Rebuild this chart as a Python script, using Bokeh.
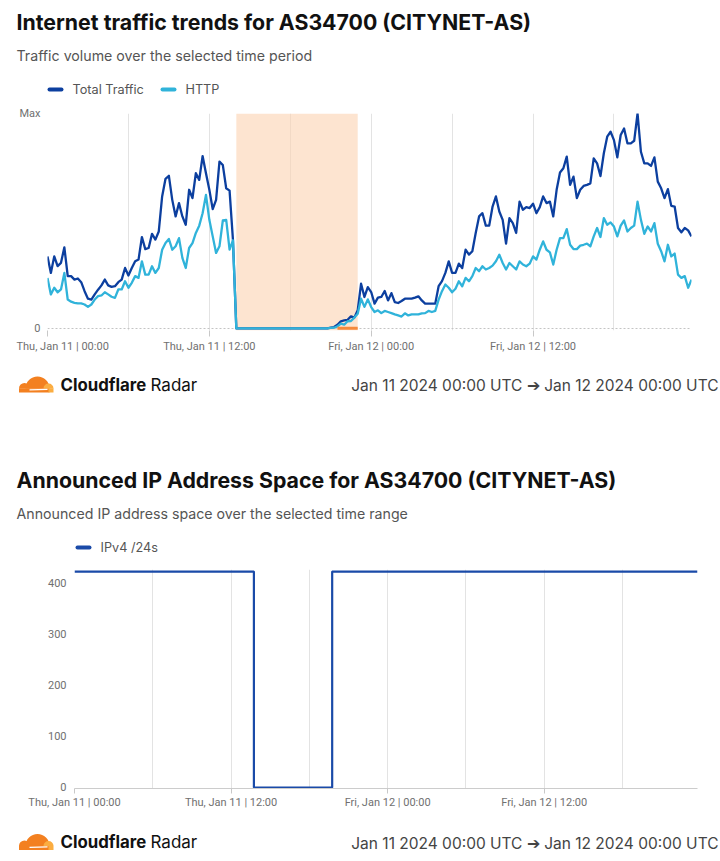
import pandas as pd
from bokeh.plotting import figure
from bokeh.models import Range1d, FixedTicker, DatetimeTickFormatter, BoxAnnotation
from bokeh.layouts import column
from bokeh.core.properties import value
from bokeh.embed import file_html
from bokeh.resources import INLINE

# ---------------- texts ----------------
TITLE_TRAFFIC = "Internet traffic trends for AS34700 (CITYNET-AS)"
SUBTITLE_TRAFFIC = "Traffic volume over the selected time period"
TITLE_PREFIX = "Announced IP Address Space for AS34700 (CITYNET-AS)"
SUBTITLE_PREFIX = "Announced IP address space over the selected time range"
BRAND_BOLD = "Cloudflare"
BRAND_LIGHT = "Radar"
DATE_RANGE_TEXT = "Jan 11 2024 00:00 UTC \u2794 Jan 12 2024 00:00 UTC"
SERIES_NAMES = ["Total Traffic", "HTTP"]
PREFIX_NAME = "IPv4 /24s"

# ---------------- data ----------------
series_start = "2024-01-11 00:00"
series_step = "15min"

# traffic, percent of max, every 15 min
total_traffic = [
    33.5, 25.8, 33.5, 29, 30.5, 37.7, 24.3, 24.3, 22.7, 23.2,
    21.5, 17.3, 13.8, 13.4, 15.8, 18, 20, 22.7, 20, 19.3,
    19.6, 21.5, 22.7, 28.1, 24.6, 28.1, 31.2, 32, 42.5, 36.9,
    37.4, 44, 41.3, 45.1, 61.4, 69.6, 71, 59.8, 52.1, 58.3,
    52.1, 48.2, 64.5, 60.6, 72.2, 69.1, 80.2, 72.2, 64.5, 55.5,
    59.8, 77.6, 76, 65.2, 64.1, 41.3,
    0, 0, 0, 0, 0, 0, 0, 0, 0, 0, 0, 0, 0, 0, 0, 0, 0, 0, 0, 0,
    0, 0, 0, 0, 0, 0, 0, 0,
    0.3, 0.6, 1.7, 3.3, 3.7, 4, 5.6, 5, 8.4, 20.8,
    14.6, 19.2, 16.9, 11.5, 14.3, 14.6, 17.4, 13, 16.4, 12.2,
    11.8, 12.7, 13.8, 13.8, 13.8, 14.3, 14.9, 13, 11.5, 11.5,
    11.5, 11.5,
    19.6, 22, 25.8, 31.2, 25.8, 25.8, 30.1, 28.1, 36.6, 34.3,
    35.9, 44.4, 52.1, 53.6, 47.8, 47.8, 56.7, 61.4, 54.4, 50.5,
    39.4, 51.3, 49, 44.4, 59, 55.2, 56.4, 56, 58, 53.6,
    56.4, 61.4, 58.3, 59, 52.1, 64.5, 72.5, 74.5, 79.9, 66.8,
    70.6, 60.6, 64.5, 66.3, 66.8, 67.5, 79.1, 76.8, 70.9, 81.5,
    89.2, 91.5, 87.6, 79.6, 90, 93, 86.1, 86.1, 87.3, 100,
    82.2, 76.8, 76.8, 75.6, 79.6, 68.3, 65.2, 60.6, 64.8, 57,
    56.7, 46.7, 44.7, 46.7, 45.6, 42.8,
]
http_traffic = [
    23.5, 15.8, 18.9, 16.8, 18.1, 25.8, 13.4, 12.4, 11.9, 11.6,
    11.6, 11.1, 10, 11.1, 13.4, 15, 15.3, 16.8, 15.8, 14.7,
    14.2, 18.1, 18.1, 21.9, 18.9, 21.2, 24.3, 23.5, 31.2, 25,
    25, 28.9, 25.8, 28.1, 36.6, 39.7, 41.6, 36.6, 38.2, 42,
    32.8, 28.1, 37.4, 39.7, 44.4, 47.8, 53.6, 62.1, 50.5, 42.8,
    35.1, 38.2, 50.2, 50.5, 36.6, 41,
    0, 0, 0, 0, 0, 0, 0, 0, 0, 0, 0, 0, 0, 0, 0, 0, 0, 0, 0, 0,
    0, 0, 0, 0, 0, 0, 0, 0,
    0.2, 0.3, 0.9, 2.2, 1.7, 3.3, 3.4, 5, 6.8, 13.8,
    10, 13.5, 9.9, 7.6, 8.4, 7.1, 8.1, 7.6, 7.1, 6.5,
    6, 5.5, 7, 6, 6.5, 6.5, 6.5, 7, 7.1, 8.1,
    7.6, 8.1,
    13.4, 17.3, 20.4, 18.9, 16.8, 18.4, 21.9, 19.6, 23.5, 21.9,
    24.3, 28.1, 26.6, 28.9, 27.4, 28.1, 29.2, 31.2, 34.3, 30.4,
    27.4, 30.4, 28.9, 27.4, 31.2, 29.7, 28.9, 30.1, 33.5, 32,
    36.6, 40.5, 36.6, 35.4, 29.7, 36.6, 42, 42, 46.2, 38.9,
    36.9, 36.9, 38.5, 38.9, 39.4, 38.2, 42.8, 46.7, 42.5, 51.3,
    48.2, 49.3, 47.4, 42.8, 47.8, 50.2, 45.1, 46.7, 47.8, 59,
    50.5, 44, 47.4, 45.1, 49, 39.4, 35.9, 31.2, 38.9, 33.5,
    34.8, 25, 23.5, 24.3, 18.9, 22.7,
]
traffic_ticks = [0, 100]
traffic_tick_labels = ["0", "Max"]

outage_start = "2024-01-11 14:00"
outage_end = "2024-01-11 23:00"
anomaly_start = "2024-01-11 21:30"
anomaly_end = "2024-01-11 23:00"

ipv4_times = ["2024-01-11 00:00", "2024-01-11 13:45", "2024-01-11 19:45", "2024-01-12 23:45"]
ipv4_values = [423, 0, 423, 423]
ipv4_ticks = [0, 100, 200, 300, 400]

# ---------------- styles ----------------
FONT = "Inter"
AXIS_FONT = "Roboto"
DARK = "#0c3f9f"
LIGHT = "#30b3da"
PREFIX_BLUE = "#1a4aa8"
GRID = "#e3e3e3"
LABEL = "#707070"
W = 720

times = pd.date_range(series_start, periods=len(total_traffic), freq=series_step)
t0, t1 = times[0], times[-1]
FMT = "%a, %b %d | %H:%M"


def ms(t):
    return pd.Timestamp(t).value / 1e6


tick12 = [ms(t) for t in pd.date_range(t0, t1, freq="12h")]
tick6 = [ms(t) for t in pd.date_range(t0, t1, freq="6h")]


def dt_formatter():
    return DatetimeTickFormatter(microseconds=FMT, milliseconds=FMT, seconds=FMT, minsec=FMT,
                                 minutes=FMT, hourmin=FMT, hours=FMT, days=FMT, months=FMT,
                                 years=FMT)


def text_fig(height, width=W):
    p = figure(width=width, height=height, x_range=Range1d(0, width), y_range=Range1d(0, height),
               x_axis_location=None, y_axis_location=None, toolbar_location=None,
               output_backend="svg", min_border=0, outline_line_color=None, frame_align=False)
    p.grid.grid_line_color = None
    return p


def txt(p, x, y, s, size, color="#111111", bold=False, align="left", font=FONT):
    p.text(x=[x], y=[y], text=[s], text_font=value(font),
           text_font_style="bold" if bold else "normal", text_font_size=size,
           text_color=color, text_baseline="middle", text_align=align)


def header(height, title, subtitle, title_y, sub_y, legend_y, legend_x, names, colors):
    p = text_fig(height)
    txt(p, 16, title_y, title, "21.3px", bold=True)
    txt(p, 16, sub_y, subtitle, "14.2px", color="#555555")
    x = legend_x
    for name, col in zip(names, colors):
        p.segment(x0=[x + 2], y0=[legend_y], x1=[x + 14], y1=[legend_y], line_color=col,
                  line_width=4, line_cap="round")
        txt(p, x + 25, legend_y, name, "12.7px", color="#555555")
        x += 113
    return p


def footer(height, mid):
    p = text_fig(height)
    x0 = 16
    b = mid - 8
    dark_o, light_o = "#f38020", "#fbad41"
    p.wedge(x=[x0 + 21], y=[b + 4], radius=12, start_angle=0, end_angle=3.1416,
            fill_color=dark_o, line_color=None)
    p.wedge(x=[x0 + 8], y=[b + 4], radius=5.5, start_angle=0, end_angle=3.1416,
            fill_color=dark_o, line_color=None)
    p.quad(left=[x0 + 2.5], right=[x0 + 33], bottom=[b], top=[b + 4.2],
           fill_color=dark_o, line_color=None)
    p.wedge(x=[x0 + 32], y=[b + 4], radius=5, start_angle=0, end_angle=3.1416,
            fill_color=light_o, line_color=None)
    p.quad(left=[x0 + 32], right=[x0 + 37], bottom=[b], top=[b + 4.2],
           fill_color=light_o, line_color=None)
    p.segment(x0=[x0 + 13], y0=[b + 2.6], x1=[x0 + 31], y1=[b + 3.2], line_color="white",
              line_width=1.2)
    txt(p, 60, mid, BRAND_BOLD, "16.8px", bold=True)
    txt(p, 150, mid, BRAND_LIGHT, "17px")
    txt(p, 718, mid - 1, DATE_RANGE_TEXT, "15.5px", color="#444444", align="right")
    return p


def style_axes(p, xtick_out, xstandoff, ystandoff):
    p.xaxis.ticker = FixedTicker(ticks=tick12)
    p.xaxis.formatter = dt_formatter()
    p.xaxis.major_tick_out = xtick_out
    p.xaxis.major_tick_in = 0
    p.xaxis.minor_tick_out = 0
    p.xaxis.minor_tick_in = 0
    p.xaxis.minor_tick_line_color = None
    p.xaxis.major_tick_line_color = "#c8c8c8"
    p.xaxis.major_label_standoff = xstandoff
    p.axis.major_label_text_font = AXIS_FONT
    p.axis.major_label_text_font_size = "11px"
    p.axis.major_label_text_color = LABEL
    p.yaxis.axis_line_color = None
    p.yaxis.major_tick_line_color = None
    p.yaxis.minor_tick_line_color = None
    p.yaxis.major_tick_out = 0
    p.yaxis.major_tick_in = 0
    p.yaxis.minor_tick_out = 0
    p.yaxis.minor_tick_in = 0
    p.yaxis.major_label_standoff = ystandoff
    p.xgrid.ticker = FixedTicker(ticks=tick6)
    p.xgrid.grid_line_color = GRID


# ---------------- chart 1: traffic ----------------
head1 = header(104, TITLE_TRAFFIC, SUBTITLE_TRAFFIC, 82.5, 49, 15, 47, SERIES_NAMES,
               [DARK, LIGHT])

p1 = figure(width=704, height=254, x_axis_type="datetime",
            x_range=Range1d(t0.to_pydatetime(), t1.to_pydatetime()), y_range=Range1d(-1, 100),
            output_backend="svg", toolbar_location=None, min_border_left=30, min_border_right=29,
            min_border_top=9, min_border_bottom=28, outline_line_color=None,
            margin=(0, 0, 0, 16), frame_align=False)
style_axes(p1, 6, 3, 7)
p1.xaxis.axis_line_color = None
p1.yaxis.ticker = FixedTicker(ticks=traffic_ticks)
p1.yaxis.major_label_overrides = dict(zip(traffic_ticks, traffic_tick_labels))
p1.ygrid.ticker = FixedTicker(ticks=traffic_ticks)
p1.ygrid.grid_line_color = "#c4c4c4"
p1.ygrid.grid_line_dash = "2 2"

p1.add_layout(BoxAnnotation(left=ms(outage_start), right=ms(outage_end), fill_color="#fcd2b1",
                            fill_alpha=0.6, line_color=None, level="underlay"))
p1.line(times, total_traffic, line_color=DARK, line_width=2.3, line_join="round")
p1.line(times, http_traffic, line_color=LIGHT, line_width=2.3, line_join="round")
p1.segment(x0=[pd.Timestamp(anomaly_start)], y0=[0], x1=[pd.Timestamp(anomaly_end)], y1=[0],
           line_color="#f58a3c", line_width=3)

foot1 = footer(52, 26)

# ---------------- chart 2: announced prefixes ----------------
head2 = header(150, TITLE_PREFIX, SUBTITLE_PREFIX, 81, 47.5, 13, 75, [PREFIX_NAME],
               [PREFIX_BLUE])

p2 = figure(width=W, height=252, x_axis_type="datetime",
            x_range=Range1d(t0.to_pydatetime(), t1.to_pydatetime()), y_range=Range1d(-2, 427),
            output_backend="svg", toolbar_location=None, min_border_left=74, min_border_right=23,
            min_border_top=9, min_border_bottom=24, outline_line_color=None, frame_align=False)
style_axes(p2, 5, 2, 8)
p2.xaxis.axis_line_color = "#cccccc"
p2.yaxis.ticker = FixedTicker(ticks=ipv4_ticks)
p2.ygrid.grid_line_color = None
p2.step(pd.to_datetime(ipv4_times), ipv4_values, mode="after", line_color=PREFIX_BLUE,
        line_width=2.2)

foot2 = footer(48, 18.5)

layout = column(head1, p1, foot1, head2, p2, foot2, spacing=0)
open("out.html", "w").write(file_html(layout, INLINE))
